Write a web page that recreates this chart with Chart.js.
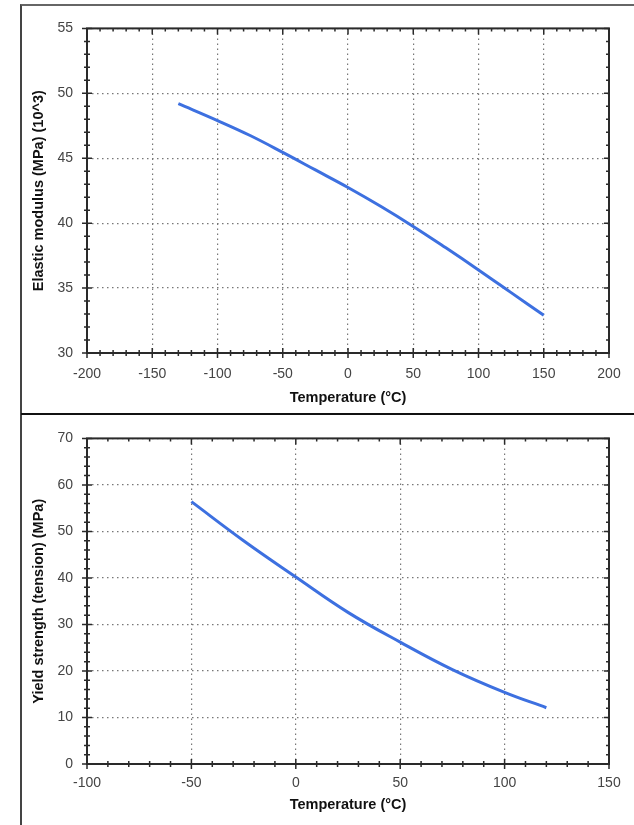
<!DOCTYPE html>
<html>
<head>
<meta charset="utf-8">
<script src="https://cdn.jsdelivr.net/npm/chart.js@4/dist/chart.umd.min.js"></script>
<style>
  body { margin: 0; background: #fff; width: 634px; height: 825px; position: relative; overflow: hidden; }
  #frame { position: absolute; left: 20px; top: 4px; width: 614px; height: 821px; border-left: 2px solid #444; border-top: 2px solid #666; box-sizing: border-box; }
  #sep { position: absolute; left: 21px; top: 413px; width: 613px; height: 2px; background: #111; }
  canvas { position: absolute; }
  #top { left: 22px; top: 6px; }
  #bottom { left: 22px; top: 416px; }
</style>
</head>
<body>
<div id="frame"></div>
<div id="sep"></div>
<canvas id="top" width="612" height="407"></canvas>
<canvas id="bottom" width="612" height="409"></canvas>
<script>
// elastic modulus vs temperature (top)
const tempE = [-130, -100, -75, -50, -25, 0, 25, 50, 75, 100, 125, 150];
const modulusE = [49.2, 47.9, 46.75, 45.45, 44.1, 42.75, 41.3, 39.75, 38.1, 36.4, 34.65, 32.9];
const xTicksE = [-200, -150, -100, -50, 0, 50, 100, 150, 200];
const yTicksE = [30, 35, 40, 45, 50, 55];

// yield strength vs temperature (bottom)
const tempY = [-50, -25, 0, 25, 50, 75, 100, 120];
const yieldY = [56.4, 48.0, 40.2, 32.6, 26.2, 20.3, 15.4, 12.1];
const xTicksY = [-100, -50, 0, 50, 100, 150];
const yTicksY = [0, 10, 20, 30, 40, 50, 60, 70];

const tickFont = { family: 'Liberation Sans', size: 14 };
const titleFont = { family: 'Liberation Sans', size: 14.5, weight: 'bold' };
const lineColor = '#3d70e0';

// frame around plot + minor/major tick marks like the original
const frameTicks = {
  id: 'frameTicks',
  afterDraw(chart, args, opts) {
    const ctx = chart.ctx;
    const a = chart.chartArea;
    const x = chart.scales.x, y = chart.scales.y;
    ctx.save();
    ctx.strokeStyle = '#2a2a2a';
    ctx.lineWidth = 1.5;
    ctx.beginPath();
    for (let v = x.min; v <= x.max + 1e-6; v += opts.xMinor) {
      const px = x.getPixelForValue(v);
      const major = Math.abs(v / opts.xMajor - Math.round(v / opts.xMajor)) < 1e-6;
      const len = major ? 5 : 3;
      ctx.moveTo(px, a.bottom - len); ctx.lineTo(px, a.bottom + len);
      ctx.moveTo(px, a.top); ctx.lineTo(px, a.top + (major ? 6 : 3));
    }
    for (let v = y.min; v <= y.max + 1e-6; v += opts.yMinor) {
      const py = y.getPixelForValue(v);
      const major = Math.abs(v / opts.yMajor - Math.round(v / opts.yMajor)) < 1e-6;
      const len = major ? 5 : 3;
      ctx.moveTo(a.left - len, py); ctx.lineTo(a.left + len, py);
      ctx.moveTo(a.right, py); ctx.lineTo(a.right - (major ? 5 : 3), py);
    }
    ctx.stroke();
    ctx.lineWidth = 2;
    ctx.strokeRect(a.left, a.top, a.right - a.left, a.bottom - a.top);
    ctx.restore();
  }
};

function makeChart(id, xs, ys, xTicks, yTicks, xTitle, yTitle, lay) {
  const pts = xs.map((v, i) => ({ x: v, y: ys[i] }));
  return new Chart(document.getElementById(id), {
    type: 'line',
    data: {
      datasets: [{
        data: pts,
        borderColor: lineColor,
        borderWidth: 3,
        pointRadius: 0,
        tension: 0.4,
        fill: false
      }]
    },
    options: {
      responsive: false,
      animation: false,
      layout: { padding: { left: 0, top: lay.top, right: 25, bottom: 0 } },
      plugins: {
        legend: { display: false },
        tooltip: { enabled: false },
        frameTicks: { xMinor: lay.xMinor, xMajor: xTicks[1] - xTicks[0], yMinor: lay.yMinor, yMajor: yTicks[1] - yTicks[0] }
      },
      scales: {
        x: {
          type: 'linear',
          min: xTicks[0],
          max: xTicks[xTicks.length - 1],
          afterBuildTicks: s => { s.ticks = xTicks.map(v => ({ value: v })); },
          afterFit: s => { s.height = lay.xHeight; },
          grid: { color: '#777', lineWidth: 1.2, drawTicks: false },
          border: { display: false, dash: [1.5, 3.5] },
          ticks: { font: tickFont, color: '#444', padding: lay.xPad, autoSkip: false, maxRotation: 0 },
          title: { display: true, text: xTitle, font: titleFont, color: '#111', padding: { top: 0, bottom: lay.xTitlePad } }
        },
        y: {
          type: 'linear',
          min: yTicks[0],
          max: yTicks[yTicks.length - 1],
          afterBuildTicks: s => { s.ticks = yTicks.map(v => ({ value: v })); },
          afterFit: s => { s.width = 65; },
          grid: { color: '#777', lineWidth: 1.2, drawTicks: false },
          border: { display: false, dash: [1.5, 3.5] },
          ticks: { font: tickFont, color: '#444', padding: 14, autoSkip: false },
          title: { display: true, text: yTitle, font: titleFont, color: '#111', padding: { top: 8.3, bottom: 0 } }
        }
      }
    },
    plugins: [frameTicks]
  });
}

makeChart('top', tempE, modulusE, xTicksE, yTicksE,
  'Temperature (°C)', 'Elastic modulus (MPa) (10^3)',
  { top: 20, xHeight: 60, xPad: 13, xTitlePad: 6.3, xMinor: 10, yMinor: 1 });

makeChart('bottom', tempY, yieldY, xTicksY, yTicksY,
  'Temperature (°C)', 'Yield strength (tension) (MPa)',
  { top: 21, xHeight: 61, xPad: 11, xTitlePad: 11.3, xMinor: 10, yMinor: 2 });
</script>
</body>
</html>
